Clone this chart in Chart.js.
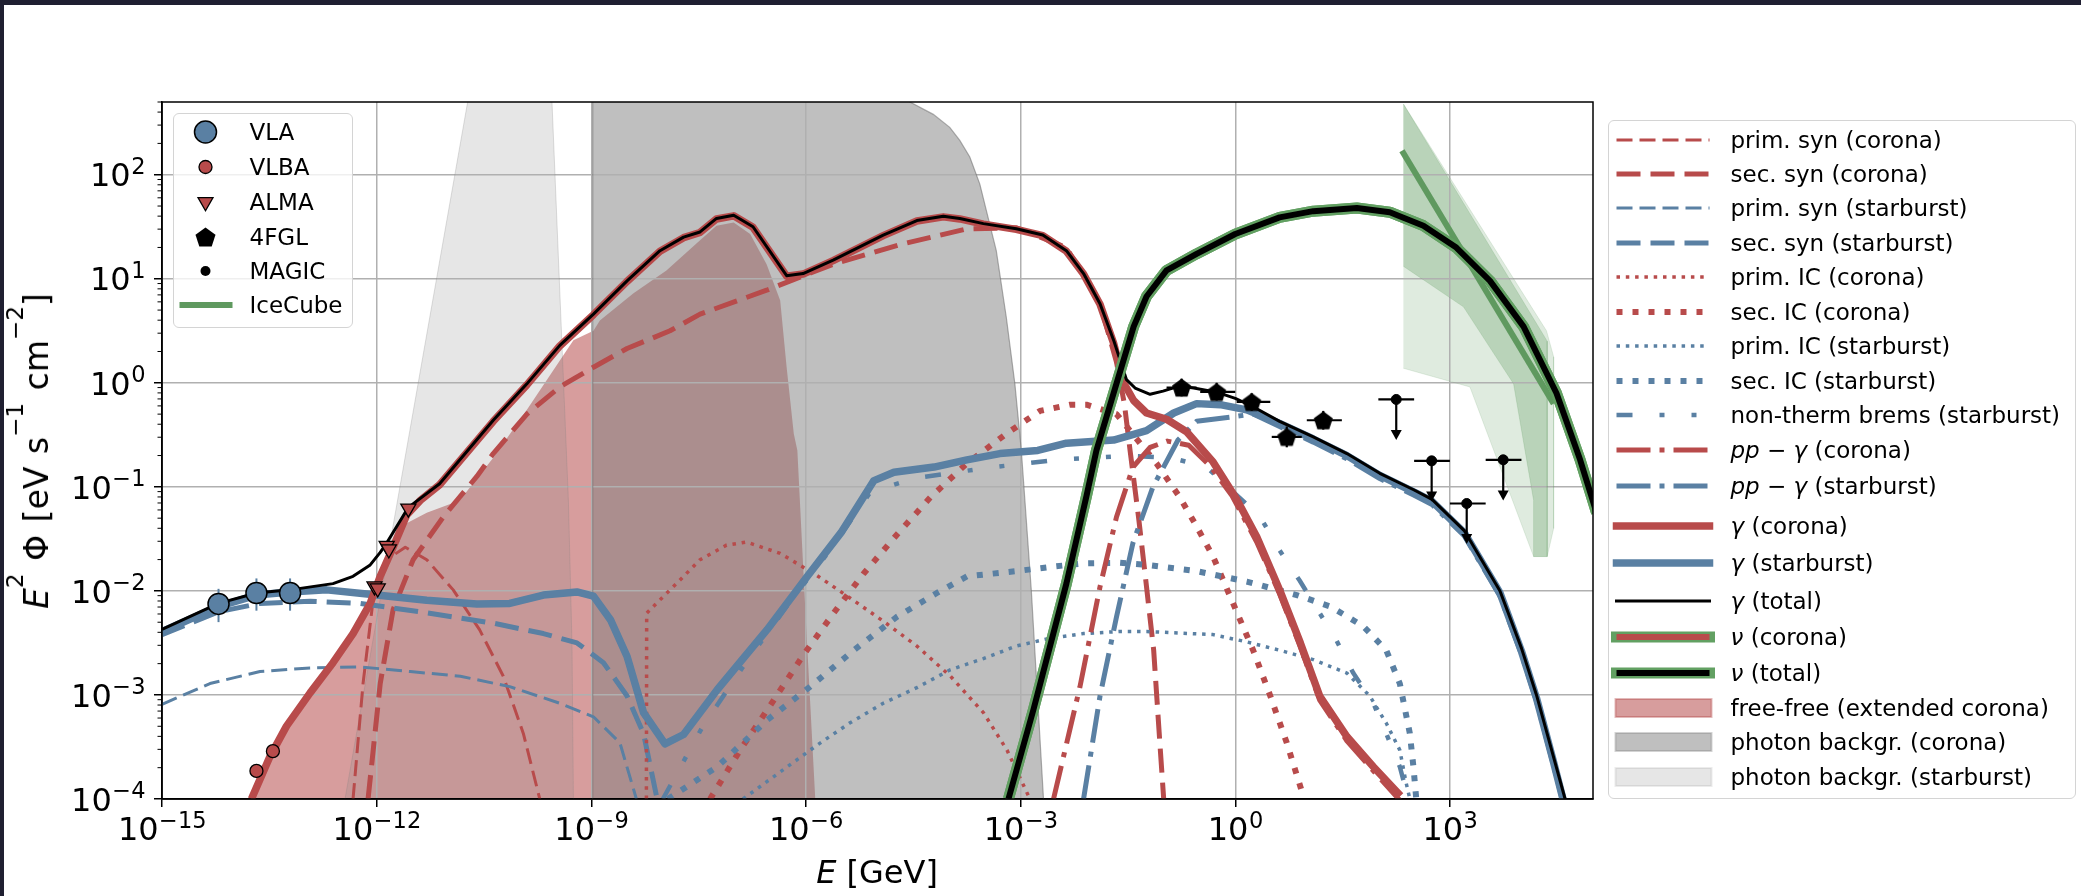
<!DOCTYPE html>
<html>
<head>
<meta charset="utf-8">
<script src="https://cdn.jsdelivr.net/npm/chart.js@4.4.0/dist/chart.umd.min.js"></script>
<style>
  html, body { margin:0; padding:0; background:#fff; }
  body { position:relative; width:2081px; height:896px; overflow:hidden; font-family:"DejaVu Sans", sans-serif; color:#000; }
  #c { position:absolute; left:0; top:0; }
  .bar { position:absolute; background:#1f1f31; }
  .legend { position:absolute; box-sizing:border-box; background:rgba(255,255,255,0.8); border:1.5px solid #d4d4d4; border-radius:6px; }
  .lrow { position:absolute; left:0; width:100%; height:30px; white-space:nowrap; font-size:23px; line-height:30px; }
  .lrow svg { position:absolute; left:0; top:0; overflow:visible; }
  .lrow span { position:absolute; top:0; }
  .axlabel { position:absolute; white-space:nowrap; font-size:32px; line-height:40px; }
  .axlabel sup { font-size:70%; position:relative; top:-0.1em; vertical-align:top; line-height:0; }
</style>
</head>
<body>
<canvas id="c" width="2081" height="896"></canvas>
<div class="bar" style="left:0;top:0;width:2081px;height:5px"></div>
<div class="bar" style="left:0;top:0;width:4px;height:896px"></div>
<div id="legL" class="legend" style="left:173px;top:113px;width:180px;height:215px"></div>
<div id="legR" class="legend" style="left:1608px;top:120px;width:468px;height:679px"></div>
<div class="axlabel" style="left:877px;top:852px;transform:translateX(-50%)"><i>E</i> [GeV]</div>
<div class="axlabel" style="left:37px;top:451px;font-size:33px;word-spacing:2px;transform:translate(-50%,-50%) rotate(-90deg)"><i>E</i><sup>2</sup> Φ [eV s<sup>−1</sup> cm<sup>−2</sup>]</div>
<script>
// ---------- values (log10 E [GeV], log10 E^2 Phi [eV s^-1 cm^-2]) ----------
const xTickExp = [-15, -12, -9, -6, -3, 0, 3];
const xTickMant = ['10', '10', '10', '10', '10', '10', '10'];
const xTickPow = ['\u221215', '\u221212', '\u22129', '\u22126', '\u22123', '0', '3'];
const yTickExp = [-4, -3, -2, -1, 0, 1, 2];
const yTickMant = ['10', '10', '10', '10', '10', '10', '10'];
const yTickPow = ['\u22124', '\u22123', '\u22122', '\u22121', '0', '1', '2'];

const gTotE = [-15, -14.21, -13.68, -13.21, -12.61, -12.33, -12.09, -11.95, -11.86, -11.56, -11.12, -10.37, -9.90, -9.44, -8.97, -8.50, -8.04, -7.71, -7.48, -7.25, -7.01, -6.74, -6.27, -6.04, -5.62, -4.92, -4.45, -4.08, -3.85, -3.52, -3.06, -2.69, -2.36, -2.12, -1.89, -1.70, -1.52, -1.40, -1.19, -1.01, -0.77, -0.58, -0.26, 0.00, 0.25, 0.62, 1.09, 1.56, 2.02, 2.50, 2.75, 3.20, 3.70, 4.00, 4.21, 4.45, 4.61];
const gTotF = [-2.37, -2.12, -2.02, -1.99, -1.93, -1.86, -1.75, -1.63, -1.54, -1.20, -0.97, -0.36, -0.01, 0.36, 0.66, 0.98, 1.27, 1.40, 1.45, 1.58, 1.61, 1.50, 1.03, 1.05, 1.18, 1.42, 1.56, 1.60, 1.58, 1.53, 1.48, 1.42, 1.27, 1.05, 0.76, 0.41, 0.03, -0.05, -0.11, -0.08, -0.03, -0.05, -0.09, -0.15, -0.23, -0.37, -0.52, -0.68, -0.87, -1.03, -1.12, -1.42, -2.00, -2.55, -3.00, -3.60, -4.00];

const gCorE = [-13.75, -13.49, -13.26, -12.93, -12.61, -12.33, -12.09, -11.95, -11.77, -11.58, -11.39, -11.12, -10.37, -9.90, -9.44, -8.97, -8.50, -8.04, -7.71, -7.48, -7.25, -7.01, -6.74, -6.27, -6.04, -5.62, -4.92, -4.45, -4.08, -3.85, -3.52, -3.06, -2.69, -2.36, -2.12, -1.89, -1.70, -1.56, -1.42, -1.24, -0.96, -0.68, -0.31, 0.02, 0.30, 0.62, 0.91, 1.18, 1.56, 1.93, 2.31];
const gCorF = [-4.00, -3.59, -3.30, -2.98, -2.69, -2.41, -2.12, -1.86, -1.58, -1.27, -1.13, -0.98, -0.37, -0.02, 0.355, 0.655, 0.975, 1.265, 1.395, 1.445, 1.575, 1.605, 1.495, 1.025, 1.045, 1.175, 1.415, 1.555, 1.595, 1.575, 1.525, 1.475, 1.415, 1.265, 1.045, 0.755, 0.38, 0.0, -0.17, -0.29, -0.35, -0.47, -0.76, -1.12, -1.48, -1.99, -2.50, -3.01, -3.40, -3.69, -3.97];

const gSbE = [-15, -14.21, -13.68, -13.21, -12.70, -12.00, -11.30, -10.60, -10.14, -9.67, -9.20, -8.97, -8.73, -8.50, -8.27, -7.97, -7.71, -7.24, -6.54, -5.98, -5.51, -5.05, -4.77, -4.21, -3.75, -3.29, -2.76, -2.36, -1.70, -1.24, -0.86, -0.54, -0.21, 0.16, 0.62, 1.09, 1.56, 2.02, 2.50, 2.75, 3.20, 3.70, 4.00, 4.21, 4.45, 4.58];
const gSbF = [-2.39, -2.15, -2.04, -2.01, -1.99, -2.04, -2.09, -2.125, -2.12, -2.04, -2.01, -2.05, -2.28, -2.63, -3.17, -3.47, -3.38, -2.95, -2.37, -1.86, -1.44, -0.94, -0.86, -0.81, -0.74, -0.68, -0.65, -0.58, -0.55, -0.46, -0.29, -0.20, -0.21, -0.26, -0.39, -0.54, -0.70, -0.89, -1.05, -1.14, -1.44, -2.02, -2.58, -3.03, -3.65, -4.00];

const nuE = [-3.17, -2.82, -2.36, -2.08, -1.94, -1.70, -1.42, -1.24, -0.96, -0.54, 0.00, 0.62, 1.09, 1.70, 2.16, 2.63, 3.09, 3.56, 4.03, 4.49, 4.82, 5.05];
const nuF = [-4.00, -3.14, -1.93, -1.09, -0.65, -0.10, 0.54, 0.83, 1.08, 1.24, 1.43, 1.59, 1.65, 1.68, 1.64, 1.51, 1.30, 0.98, 0.54, -0.10, -0.74, -1.25];

const psCE = [-12.33, -12.19, -12.05, -11.86, -11.60, -11.30, -10.93, -10.56, -10.23, -9.95, -9.72];
const psCF = [-4.00, -2.89, -2.09, -1.70, -1.58, -1.70, -1.99, -2.375, -2.82, -3.37, -4.00];

const ssCE = [-12.12, -11.95, -11.77, -11.49, -11.07, -10.60, -10.37, -9.90, -9.44, -8.97, -8.50, -7.90, -7.48, -6.55, -5.62, -4.68, -3.75, -3.06, -2.36, -1.89, -1.66, -1.55, -1.47, -1.35, -1.25, -1.14, -1.05, -1.00];
const ssCF = [-4.00, -2.89, -2.18, -1.70, -1.29, -0.90, -0.68, -0.30, -0.04, 0.15, 0.33, 0.50, 0.66, 0.89, 1.14, 1.33, 1.48, 1.49, 1.30, 0.76, 0.20, -0.20, -0.65, -1.30, -1.90, -2.57, -3.50, -4.00];

const psSE = [-15, -14.33, -13.63, -12.93, -12.23, -11.53, -10.83, -10.14, -9.44, -8.97, -8.60, -8.37];
const psSF = [-3.09, -2.89, -2.775, -2.74, -2.73, -2.775, -2.82, -2.92, -3.08, -3.21, -3.46, -4.00];

const ssSE = [-15, -14.21, -13.63, -12.93, -12.23, -11.30, -10.37, -9.67, -9.20, -8.83, -8.50, -8.27, -8.08];
const ssSF = [-2.42, -2.20, -2.12, -2.10, -2.12, -2.21, -2.31, -2.41, -2.50, -2.69, -3.01, -3.37, -4.00];

const picCE = [-8.23, -8.226, -8.09, -7.81, -7.48, -7.11, -6.83, -6.36, -5.85, -5.38, -4.92, -4.45, -3.98, -3.52, -3.19, -2.87];
const picCF = [-4.00, -2.215, -2.12, -1.93, -1.70, -1.56, -1.53, -1.64, -1.85, -2.07, -2.29, -2.53, -2.82, -3.17, -3.53, -4.00];

const sicCE = [-7.34, -6.92, -6.45, -6.03, -5.61, -5.19, -4.73, -4.26, -3.76, -3.20, -2.73, -2.31, -2.08, -1.66, -1.10, -0.78, -0.54, -0.31, -0.03, 0.25, 0.49, 0.72, 0.95];
const sicCF = [-4.00, -3.53, -3.05, -2.61, -2.21, -1.83, -1.46, -1.10, -0.78, -0.49, -0.27, -0.21, -0.21, -0.30, -0.775, -1.095, -1.38, -1.67, -2.12, -2.57, -3.01, -3.46, -3.97];

const picSE = [-6.88, -6.32, -5.86, -5.39, -4.92, -4.45, -3.99, -3.52, -3.06, -2.59, -2.12, -1.61, -1.24, -0.31, 0.16, 0.62, 1.09, 1.56, 1.88, 2.11, 2.30, 2.39, 2.44];
const picSF = [-4.00, -3.72, -3.49, -3.27, -3.08, -2.93, -2.76, -2.65, -2.53, -2.455, -2.41, -2.39, -2.39, -2.42, -2.49, -2.57, -2.66, -2.79, -3.01, -3.27, -3.53, -3.85, -4.00];

const sicSE = [-7.93, -7.24, -6.54, -5.94, -5.33, -4.73, -4.17, -3.75, -3.06, -2.59, -2.12, -1.61, -1.24, -0.54, 0.16, 0.86, 1.33, 1.79, 2.11, 2.30, 2.44, 2.49, 2.53];
const sicSF = [-4.00, -3.69, -3.24, -2.92, -2.57, -2.25, -2.02, -1.86, -1.81, -1.77, -1.735, -1.73, -1.75, -1.81, -1.91, -2.04, -2.15, -2.34, -2.57, -2.89, -3.37, -3.69, -4.00];

const nbSE = [-8.00, -7.44, -6.88, -6.27, -5.60, -5.10, -4.50, -3.50, -2.50, -1.50, -0.90, -0.40, 0.35, 0.62, 0.90, 1.41, 1.65, 1.93, 2.11, 2.30, 2.42];
const nbSF = [-4.00, -3.30, -2.73, -2.15, -1.55, -1.05, -0.92, -0.82, -0.74, -0.70, -0.72, -0.81, -1.29, -1.61, -1.90, -2.47, -2.79, -3.08, -3.37, -3.69, -4.00];

const ppCE = [-2.54, -2.17, -1.89, -1.66, -1.43, -1.19, -0.95, -0.65, -0.35, -0.05, 0.30, 0.62, 0.91, 1.18, 1.56, 1.93, 2.31];
const ppCF = [-4.00, -2.92, -1.96, -1.29, -0.81, -0.62, -0.56, -0.60, -0.80, -1.08, -1.53, -2.03, -2.54, -3.05, -3.44, -3.73, -4.02];

const ppSE = [-2.12, -1.89, -1.66, -1.43, -1.15, -0.80, -0.54, -0.07, 0.25, 0.62, 1.09, 1.56, 2.02, 2.50, 2.75, 3.20, 3.70, 4.00, 4.21, 4.45, 4.57];
const ppSF = [-4.00, -3.01, -2.25, -1.54, -1.00, -0.55, -0.37, -0.33, -0.30, -0.42, -0.57, -0.73, -0.92, -1.08, -1.17, -1.47, -2.05, -2.61, -3.06, -3.68, -4.00];

// filled regions (outline polygons)
const ffE = [-13.80, -13.75, -13.49, -13.26, -12.93, -12.61, -12.33, -12.09, -11.95, -11.77, -11.58, -11.30, -10.84, -10.37, -9.90, -9.25, -8.97, -8.88, -8.41, -7.95, -7.48, -7.25, -7.01, -6.78, -6.55, -6.36, -6.27, -6.17, -6.12, -6.00, -5.87, -5.85];
const ffF = [-4.50, -4.00, -3.59, -3.30, -2.98, -2.69, -2.41, -2.12, -1.86, -1.58, -1.35, -1.25, -1.13, -0.72, -0.26, 0.41, 0.50, 0.60, 0.86, 1.08, 1.37, 1.51, 1.54, 1.43, 1.14, 0.79, 0.15, -0.49, -0.65, -2.30, -4.00, -4.50];
const pbSE = [-12.57, -10.60, -9.58, -9.55, -9.32, -9.27, -9.25, -9.25];
const pbSF = [-4.50, 3.20, 3.20, 2.71, -1.13, -2.50, -4.00, -4.50];
const pbCE = [-8.98, -8.98, -4.70, -4.55, -4.22, -3.99, -3.85, -3.71, -3.57, -3.34, -3.20, -3.08, -2.99, -2.94, -2.85, -2.68, -2.66];
const pbCF = [-4.50, 3.20, 3.20, 2.70, 2.58, 2.455, 2.33, 2.17, 1.91, 1.27, 0.63, -0.01, -0.65, -1.13, -2.00, -4.00, -4.50];
const icAE = [2.35, 4.35, 4.45, 4.45, 4.36, 4.17, 3.28, 2.35];
const icAF = [2.68, 0.50, 0.25, -1.40, -1.67, -1.67, -0.04, 0.14];
const icBE = [2.35, 4.36, 4.36, 4.17, 4.17, 3.89, 3.19, 2.35];
const icBF = [2.68, 0.40, -1.67, -1.67, -1.13, -0.01, 0.73, 1.12];
const icLineE = [2.33, 4.45];
const icLineF = [2.23, -0.20];

// measurements
const vlaE = [-14.21, -13.68, -13.21];
const vlaF = [-2.125, -2.02, -2.02];
const vlaLo = [-2.30, -2.19, -2.19];
const vlaHi = [-1.98, -1.88, -1.88];
const vlbaE = [-13.68, -13.45];
const vlbaF = [-3.73, -3.54];
const almaE = [-12.03, -11.985, -11.86, -11.83, -11.557];
const almaF = [-1.955, -1.975, -1.565, -1.60, -1.207];
const fglE = [-0.75, -0.26, 0.23, 0.72, 1.23];
const fglF = [-0.046, -0.088, -0.184, -0.52, -0.36];
const fglElo = [-0.96, -0.49, 0.02, 0.51, 1.00];
const fglEhi = [-0.54, 0.00, 0.49, 0.93, 1.49];
const fglFlo = [-0.13, -0.17, -0.27, -0.62, -0.45];
const fglFhi = [0.04, 0.00, -0.10, -0.42, -0.27];
const magE = [2.25, 2.745, 3.235, 3.745];
const magF = [-0.16, -0.75, -1.16, -0.74];
const magElo = [2.0, 2.5, 3.0, 3.5];
const magEhi = [2.5, 3.0, 3.5, 4.0];
const magUL = [-0.55, -1.14, -1.55, -1.13];

// ---------- styles ----------
const RED = '#b84b4b', BLUE = '#5a80a3', GREEN = '#62a062', ICGREEN = '#5f995f';
const PINK = 'rgba(175,60,60,0.5)', DGRAY = 'rgba(128,128,128,0.5)', LGRAY = 'rgba(128,128,128,0.2)';
const ST = {
  psC: {c: RED, w: 3, d: [16, 7]},
  ssC: {c: RED, w: 5, d: [24, 10]},
  psS: {c: BLUE, w: 3, d: [16, 7]},
  ssS: {c: BLUE, w: 5, d: [24, 10]},
  picC: {c: RED, w: 3.5, d: [3.5, 5.8]},
  sicC: {c: RED, w: 6, d: [6, 10]},
  picS: {c: BLUE, w: 3.5, d: [3.5, 5.8]},
  sicS: {c: BLUE, w: 6, d: [6, 10]},
  nbS: {c: BLUE, w: 4.5, d: [16, 27, 5, 27, 5, 27]},
  ppC: {c: RED, w: 5, d: [34, 9, 5, 9]},
  ppS: {c: BLUE, w: 5, d: [34, 9, 5, 9]},
  gC: {c: RED, w: 7.5, d: []},
  gS: {c: BLUE, w: 7.5, d: []},
  gT: {c: '#000', w: 3, d: []},
  nuOut: {c: GREEN, w: 11, d: []},
  nuC: {c: RED, w: 6, d: []},
  nuT: {c: '#000', w: 6, d: []},
  ic: {c: ICGREEN, w: 6, d: []}
};

const pts = (E, F) => E.map((e, i) => ({x: Math.pow(10, e), y: Math.pow(10, F[i])}));
function curve(label, E, F, s, order) {
  return {label, data: pts(E, F), borderColor: s.c, borderWidth: s.w, borderDash: s.d,
    borderCapStyle: 'butt', borderJoinStyle: 'round', pointRadius: 0, pointHoverRadius: 0,
    fill: false, tension: 0, order};
}
function area(label, E, F, bg, border, bw, order) {
  return {label, data: pts(E, F), backgroundColor: bg, borderColor: border, borderWidth: bw,
    pointRadius: 0, pointHoverRadius: 0, fill: 'shape', tension: 0, order};
}
function marks(label, E, F, opts, order) {
  return Object.assign({label, data: pts(E, F), showLine: false, order, pointHoverRadius: 0}, opts);
}
function pentagonImage(size, color) {
  const cv = document.createElement('canvas');
  cv.width = size; cv.height = size;
  const g = cv.getContext('2d');
  const r = size / 2 - 0.5;
  g.beginPath();
  for (let k = 0; k < 5; k++) {
    const a = -Math.PI / 2 + k * 2 * Math.PI / 5;
    g.lineTo(size / 2 + r * Math.cos(a), size / 2 + r * Math.sin(a) + r * 0.1);
  }
  g.closePath(); g.fillStyle = color; g.fill();
  return cv;
}

const datasets = [
  marks('VLA', vlaE, vlaF, {pointStyle: 'circle', pointRadius: 10.5, pointBackgroundColor: BLUE, pointBorderColor: '#000', pointBorderWidth: 1.5}, 0),
  marks('VLBA', vlbaE, vlbaF, {pointStyle: 'circle', pointRadius: 6.5, pointBackgroundColor: RED, pointBorderColor: '#000', pointBorderWidth: 1.3}, 1),
  marks('ALMA', almaE, almaF, {pointStyle: 'triangle', pointRotation: 180, pointRadius: 8.7, pointBackgroundColor: RED, pointBorderColor: '#000', pointBorderWidth: 1.3}, 2),
  marks('4FGL', fglE, fglF, {pointStyle: pentagonImage(21, '#000'), pointRadius: 10}, 3),
  marks('MAGIC', magE, magF, {pointStyle: 'circle', pointRadius: 5, pointBackgroundColor: '#000', pointBorderColor: '#000', pointBorderWidth: 1}, 4),
  curve('ν (total)', nuE, nuF, ST.nuT, 6),
  curve('ν (total) edge', nuE, nuF, ST.nuOut, 7),
  curve('ν (corona)', nuE, nuF, ST.nuC, 8),
  curve('ν (corona) edge', nuE, nuF, ST.nuOut, 9),
  curve('γ (total)', gTotE, gTotF, ST.gT, 10),
  curve('γ (corona)', gCorE, gCorF, ST.gC, 11),
  curve('γ (starburst)', gSbE, gSbF, ST.gS, 12),
  curve('IceCube', icLineE, icLineF, ST.ic, 13),
  curve('pp − γ (corona)', ppCE, ppCF, ST.ppC, 20),
  curve('pp − γ (starburst)', ppSE, ppSF, ST.ppS, 21),
  curve('non-therm brems (starburst)', nbSE, nbSF, ST.nbS, 22),
  curve('sec. IC (starburst)', sicSE, sicSF, ST.sicS, 23),
  curve('prim. IC (starburst)', picSE, picSF, ST.picS, 24),
  curve('sec. IC (corona)', sicCE, sicCF, ST.sicC, 25),
  curve('prim. IC (corona)', picCE, picCF, ST.picC, 26),
  curve('sec. syn (starburst)', ssSE, ssSF, ST.ssS, 27),
  curve('prim. syn (starburst)', psSE, psSF, ST.psS, 28),
  curve('sec. syn (corona)', ssCE, ssCF, ST.ssC, 29),
  curve('prim. syn (corona)', psCE, psCF, ST.psC, 30),
  area('IceCube band B', icBE, icBF, 'rgba(95,155,95,0.30)', 'rgba(95,155,95,0.25)', 0.8, 46),
  area('IceCube band A', icAE, icAF, 'rgba(95,155,95,0.20)', 'rgba(95,155,95,0.20)', 0.8, 47),
  area('photon backgr. (corona)', pbCE, pbCF, DGRAY, 'rgba(110,110,110,0.55)', 1.2, 48),
  area('photon backgr. (starburst)', pbSE, pbSF, LGRAY, 'rgba(128,128,128,0.25)', 1, 49),
  area('free-free (extended corona)', ffE, ffF, PINK, 'rgba(0,0,0,0)', 0, 50)
];

// error bars / upper-limit arrows, drawn just before their markers
const errPlugin = {
  id: 'errbars',
  beforeDatasetDraw(chart, args) {
    const ds = chart.data.datasets[args.index];
    const xs = chart.scales.x, ys = chart.scales.y, ctx = chart.ctx;
    const X = v => xs.getPixelForValue(Math.pow(10, v));
    const Y = v => ys.getPixelForValue(Math.pow(10, v));
    const seg = (x1, y1, x2, y2) => { ctx.beginPath(); ctx.moveTo(x1, y1); ctx.lineTo(x2, y2); ctx.stroke(); };
    ctx.save();
    ctx.setLineDash([]);
    if (ds.label === 'VLA') {
      ctx.strokeStyle = BLUE; ctx.lineWidth = 2;
      vlaE.forEach((e, i) => seg(X(e), Y(vlaLo[i]), X(e), Y(vlaHi[i])));
    } else if (ds.label === '4FGL') {
      ctx.strokeStyle = '#000'; ctx.lineWidth = 2.2;
      fglE.forEach((e, i) => {
        seg(X(fglElo[i]), Y(fglF[i]), X(fglEhi[i]), Y(fglF[i]));
        seg(X(e), Y(fglFlo[i]), X(e), Y(fglFhi[i]));
      });
    } else if (ds.label === 'MAGIC') {
      ctx.strokeStyle = '#000'; ctx.fillStyle = '#000'; ctx.lineWidth = 2.2;
      magE.forEach((e, i) => {
        const x = X(e), y = Y(magF[i]), yt = Y(magUL[i]);
        seg(X(magElo[i]), y, X(magEhi[i]), y);
        seg(x, y, x, yt - 6);
        ctx.beginPath(); ctx.moveTo(x - 5.5, yt - 10); ctx.lineTo(x + 5.5, yt - 10); ctx.lineTo(x, yt); ctx.closePath(); ctx.fill();
      });
    }
    ctx.restore();
  }
};

// axes frame and minor y ticks
const framePlugin = {
  id: 'frame',
  afterDatasetsDraw(chart) {
    const {ctx, chartArea: a} = chart;
    const ys = chart.scales.y;
    ctx.save();
    ctx.setLineDash([]);
    ctx.strokeStyle = '#000';
    ctx.lineWidth = 1.5;
    ctx.strokeRect(a.left, a.top, a.right - a.left, a.bottom - a.top);
    ctx.lineWidth = 1;
    for (let n = -4; n <= 2; n++) {
      for (let k = 2; k <= 9; k++) {
        const v = k * Math.pow(10, n);
        if (v > ys.max) continue;
        const p = ys.getPixelForValue(v);
        ctx.beginPath(); ctx.moveTo(a.left - 4.5, p); ctx.lineTo(a.left, p); ctx.stroke();
      }
    }
    ctx.restore();
  }
};

// tick labels drawn mathtext-style: "10" with a raised, smaller exponent
const tickLabelPlugin = {
  id: 'tickLabels',
  afterDraw(chart) {
    const ctx = chart.ctx, a = chart.chartArea;
    const xs = chart.scales.x, ys = chart.scales.y;
    const BASE = "32px 'DejaVu Sans'", SUP = "22.5px 'DejaVu Sans'";
    const draw = (mant, pow, x, yBase, align) => {
      ctx.font = BASE; const wb = ctx.measureText(mant).width;
      ctx.font = SUP; const ws = ctx.measureText(pow).width;
      const x0 = align === 'center' ? x - (wb + ws) / 2 : x - (wb + ws);
      ctx.font = BASE; ctx.fillText(mant, x0, yBase);
      ctx.font = SUP; ctx.fillText(pow, x0 + wb + 0.5, yBase - 12.5);
    };
    ctx.save();
    ctx.fillStyle = '#000'; ctx.textBaseline = 'alphabetic'; ctx.textAlign = 'left';
    xTickExp.forEach((e, i) => draw(xTickMant[i], xTickPow[i], xs.getPixelForValue(Math.pow(10, e)), a.bottom + 41, 'center'));
    yTickExp.forEach((e, i) => draw(yTickMant[i], yTickPow[i], a.left - 17, ys.getPixelForValue(Math.pow(10, e)) + 11.7, 'right'));
    ctx.restore();
  }
};

Chart.defaults.font.family = "'DejaVu Sans', sans-serif";
Chart.defaults.color = '#000';

const gridOpts = {color: '#b0b0b0', lineWidth: 1.5, tickColor: '#000', tickLength: 8, tickWidth: 1.5};

new Chart(document.getElementById('c'), {
  type: 'line',
  data: {datasets},
  options: {
    responsive: false,
    animation: false,
    devicePixelRatio: 1,
    events: [],
    layout: {padding: {left: 0, right: 488, top: 102, bottom: 37}},
    plugins: {legend: {display: false}, tooltip: {enabled: false}, filler: {drawTime: 'beforeDraw'}},
    scales: {
      x: {
        type: 'logarithmic', min: 1e-15, max: 1e5,
        afterBuildTicks: s => { s.ticks = xTickExp.map(e => ({value: Math.pow(10, e)})); },
        afterFit: s => { s.height = 60; },
        ticks: {display: false, autoSkip: false, maxRotation: 0},
        grid: gridOpts,
        border: {display: true, color: '#000', width: 1.5}
      },
      y: {
        type: 'logarithmic', min: 1e-4, max: 500,
        afterBuildTicks: s => { s.ticks = yTickExp.map(e => ({value: Math.pow(10, e)})); },
        afterFit: s => { s.width = 162; },
        ticks: {display: false, autoSkip: false},
        grid: gridOpts,
        border: {display: true, color: '#000', width: 1.5}
      }
    }
  },
  plugins: [errPlugin, framePlugin, tickLabelPlugin]
});

// ---------- legends (HTML text) ----------
const legLLabels = ['VLA', 'VLBA', 'ALMA', '4FGL', 'MAGIC', 'IceCube'];
const legLY = [132, 167, 202, 237, 271, 305];
const legLMarks = [
  `<circle cx="31.5" cy="15" r="11" fill="${BLUE}" stroke="#000" stroke-width="1.5"/>`,
  `<circle cx="31.5" cy="15" r="6.5" fill="${RED}" stroke="#000" stroke-width="1.3"/>`,
  `<polygon points="24,10.6 39,10.6 31.5,23.7" fill="${RED}" stroke="#000" stroke-width="1.3"/>`,
  (() => { let p = []; for (let k = 0; k < 5; k++) { const a = -Math.PI / 2 + k * 2 * Math.PI / 5; p.push((31.5 + 10.5 * Math.cos(a)).toFixed(1) + ',' + (16 + 10.5 * Math.sin(a)).toFixed(1)); } return `<polygon points="${p.join(' ')}" fill="#000"/>`; })(),
  `<circle cx="31.5" cy="15" r="5" fill="#000"/>`,
  `<line x1="5.5" y1="15" x2="58.5" y2="15" stroke="${ICGREEN}" stroke-width="6"/>`
];
const legL = document.getElementById('legL');
legLLabels.forEach((t, i) => {
  const r = document.createElement('div');
  r.className = 'lrow';
  r.style.top = (legLY[i] - 113 - 16.5) + 'px';
  r.innerHTML = `<svg width="80" height="30">${legLMarks[i]}</svg><span style="left:75.5px">${t}</span>`;
  legL.appendChild(r);
});

const legRLabels = ['prim. syn (corona)', 'sec. syn (corona)', 'prim. syn (starburst)', 'sec. syn (starburst)',
  'prim. IC (corona)', 'sec. IC (corona)', 'prim. IC (starburst)', 'sec. IC (starburst)', 'non-therm brems (starburst)',
  '<i>pp</i> − <i>γ</i> (corona)', '<i>pp</i> − <i>γ</i> (starburst)', '<i>γ</i> (corona)', '<i>γ</i> (starburst)', '<i>γ</i> (total)',
  '<i>ν</i> (corona)', '<i>ν</i> (total)', 'free-free (extended corona)', 'photon backgr. (corona)', 'photon backgr. (starburst)'];
const legRY = [140, 174.3, 208.3, 243.3, 277.3, 312.3, 346.7, 381, 415.7, 450.7, 486, 526, 563, 601, 637, 673, 708, 742, 777];
const legRStyles = [ST.psC, ST.ssC, ST.psS, ST.ssS, ST.picC, ST.sicC, ST.picS, ST.sicS, ST.nbS, ST.ppC, ST.ppS, ST.gC, ST.gS, ST.gT,
  {nu: RED}, {nu: '#000'}, {patch: PINK, edge: 'rgba(175,60,60,0.35)'}, {patch: DGRAY, edge: 'rgba(128,128,128,0.35)'}, {patch: LGRAY, edge: 'rgba(128,128,128,0.15)'}];
const legR = document.getElementById('legR');
legRLabels.forEach((t, i) => {
  const s = legRStyles[i];
  let svg;
  if (s.nu) {
    svg = `<line x1="7.5" y1="15" x2="100.5" y2="15" stroke="${GREEN}" stroke-width="11" stroke-linecap="square"/>` +
          `<line x1="7.5" y1="15" x2="100.5" y2="15" stroke="${s.nu}" stroke-width="6" stroke-linecap="butt"/>`;
  } else if (s.patch) {
    svg = `<rect x="6.5" y="6" width="96" height="18" fill="${s.patch}" stroke="${s.edge}" stroke-width="2"/>`;
  } else {
    const solid = s.d.length === 0;
    svg = `<line x1="7.5" y1="15" x2="100.5" y2="15" stroke="${s.c}" stroke-width="${s.w}" ` +
          (solid ? 'stroke-linecap="square"' : `stroke-linecap="butt" stroke-dasharray="${s.d.join(' ')}"`) + '/>';
  }
  const r = document.createElement('div');
  r.className = 'lrow';
  r.style.top = (legRY[i] - 120 - 16.5) + 'px';
  r.innerHTML = `<svg width="115" height="30">${svg}</svg><span style="left:121.5px">${t}</span>`;
  legR.appendChild(r);
});
</script>
</body>
</html>
